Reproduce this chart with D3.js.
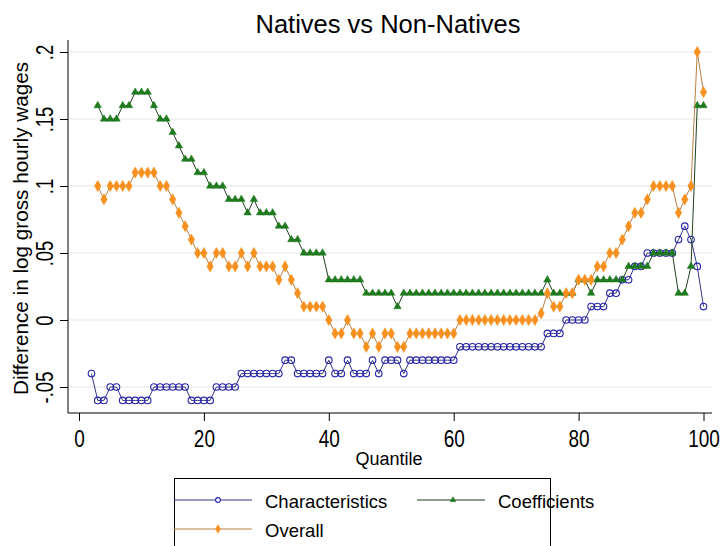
<!DOCTYPE html>
<html>
<head>
<meta charset="utf-8">
<script src="https://cdn.jsdelivr.net/npm/d3@7"></script>
<style>
  html, body { margin: 0; padding: 0; background: #ffffff; }
  svg { display: block; }
  text { font-family: "Liberation Sans", Arial, sans-serif; fill: #000; }
</style>
</head>
<body>
<svg id="chart" width="722" height="546"></svg>
<script>
// ---- data ----
const charQuantiles = d3.range(2, 101);   // 2..100
const otherQuantiles = d3.range(3, 101);  // 3..100

const characteristics = [
  -0.04,-0.06,-0.06,-0.05,-0.05,-0.06,-0.06,-0.06,-0.06,-0.06,
  -0.05,-0.05,-0.05,-0.05,-0.05,-0.05,-0.06,-0.06,-0.06,-0.06,
  -0.05,-0.05,-0.05,-0.05,-0.04,-0.04,-0.04,-0.04,-0.04,-0.04,
  -0.04,-0.03,-0.03,-0.04,-0.04,-0.04,-0.04,-0.04,-0.03,-0.04,
  -0.04,-0.03,-0.04,-0.04,-0.04,-0.03,-0.04,-0.03,-0.03,-0.03,
  -0.04,-0.03,-0.03,-0.03,-0.03,-0.03,-0.03,-0.03,-0.03,-0.02,
  -0.02,-0.02,-0.02,-0.02,-0.02,-0.02,-0.02,-0.02,-0.02,-0.02,
  -0.02,-0.02,-0.02,-0.01,-0.01,-0.01,0,0,0,0,
  0.01,0.01,0.01,0.02,0.02,0.03,0.03,0.04,0.04,0.05,
  0.05,0.05,0.05,0.05,0.06,0.07,0.06,0.04,0.01
];

const coefficients = [
  0.16,0.15,0.15,0.15,0.16,0.16,0.17,0.17,0.17,0.16,
  0.15,0.15,0.14,0.13,0.12,0.12,0.11,0.11,0.10,0.10,
  0.10,0.09,0.09,0.09,0.08,0.09,0.08,0.08,0.08,0.07,
  0.07,0.06,0.06,0.05,0.05,0.05,0.05,0.03,0.03,0.03,
  0.03,0.03,0.03,0.02,0.02,0.02,0.02,0.02,0.01,0.02,
  0.02,0.02,0.02,0.02,0.02,0.02,0.02,0.02,0.02,0.02,
  0.02,0.02,0.02,0.02,0.02,0.02,0.02,0.02,0.02,0.02,
  0.02,0.02,0.03,0.02,0.02,0.02,0.02,0.03,0.03,0.02,
  0.03,0.03,0.03,0.03,0.03,0.04,0.04,0.04,0.04,0.05,
  0.05,0.05,0.05,0.02,0.02,0.04,0.16,0.16
];

const overall = [
  0.10,0.09,0.10,0.10,0.10,0.10,0.11,0.11,0.11,0.11,
  0.10,0.10,0.09,0.08,0.07,0.06,0.05,0.05,0.04,0.05,
  0.05,0.04,0.04,0.05,0.04,0.05,0.04,0.04,0.04,0.03,
  0.04,0.03,0.02,0.01,0.01,0.01,0.01,0.00,-0.01,-0.01,
  0.00,-0.01,-0.01,-0.02,-0.01,-0.02,-0.01,-0.01,-0.02,-0.02,
  -0.01,-0.01,-0.01,-0.01,-0.01,-0.01,-0.01,-0.01,0,0,
  0,0,0,0,0,0,0,0,0,0,
  0,0.005,0.02,0.01,0.01,0.02,0.02,0.03,0.03,0.03,
  0.04,0.04,0.05,0.05,0.06,0.07,0.08,0.08,0.09,0.10,
  0.10,0.10,0.10,0.08,0.09,0.10,0.20,0.17
];

const xTicks = [0, 20, 40, 60, 80, 100];
const yTicks = [-0.05, 0, 0.05, 0.1, 0.15, 0.2];
const yTickLabels = ["-.05", "0", ".05", ".1", ".15", ".2"];

const titleText = "Natives vs Non-Natives";
const xTitle = "Quantile";
const yTitle = "Difference in log gross hourly wages";
const seriesNames = ["Characteristics", "Coefficients", "Overall"];

// ---- layout ----
const svg = d3.select("#chart");
const plotLeft = 68, plotRight = 712, plotTop = 40, plotBottom = 413;

const x = d3.scaleLinear().domain([0, 100]).range([79, 703.5]);
const y = d3.scaleLinear().domain([0, 0.2]).range([320, 52]);

// gridlines
svg.append("g").selectAll("line").data(yTicks).join("line")
  .attr("x1", plotLeft).attr("x2", plotRight)
  .attr("y1", d => y(d)).attr("y2", d => y(d))
  .attr("stroke", "#e6e6e6").attr("stroke-width", 1.2);

// y axis
const yAxis = d3.axisLeft(y).tickValues(yTicks)
  .tickFormat((d, i) => yTickLabels[i]).tickSize(8).tickSizeOuter(0);
const gy = svg.append("g").attr("transform", `translate(${plotLeft},0)`).call(yAxis);
gy.select(".domain").remove();
gy.selectAll(".tick line").attr("stroke", "#000");
gy.selectAll(".tick text").remove();
gy.selectAll(".tick").append("text")
  .attr("transform", "translate(-15,0) rotate(-90) scale(1,1.3)")
  .attr("text-anchor", "middle")
  .style("font-size", "18.5px")
  .text(d => yTickLabels[yTicks.indexOf(d)]);
svg.append("line").attr("x1", plotLeft).attr("x2", plotLeft)
  .attr("y1", plotTop).attr("y2", plotBottom).attr("stroke", "#000").attr("stroke-width", 1);

// x axis
const xAxis = d3.axisBottom(x).tickValues(xTicks).tickFormat(d3.format("d"))
  .tickSize(8).tickSizeOuter(0);
const gx = svg.append("g").attr("transform", `translate(0,${plotBottom})`).call(xAxis);
gx.select(".domain").remove();
gx.selectAll(".tick line").attr("stroke", "#000");
gx.selectAll(".tick text").remove();
gx.selectAll(".tick").append("text")
  .attr("transform", "translate(0,34) scale(1,1.3)")
  .attr("text-anchor", "middle")
  .style("font-size", "19px")
  .text(d => d3.format("d")(d));
svg.append("line").attr("x1", plotLeft).attr("x2", plotRight)
  .attr("y1", plotBottom).attr("y2", plotBottom).attr("stroke", "#000").attr("stroke-width", 1);

// titles
svg.append("text").attr("x", 388).attr("y", 33).attr("text-anchor", "middle")
  .style("font-size", "25.5px").text(titleText);
svg.append("text").attr("x", 389).attr("y", 465).attr("text-anchor", "middle")
  .style("font-size", "18px").text(xTitle);
svg.append("text").attr("transform", `translate(28,${(plotTop + plotBottom) / 2 + 2}) rotate(-90)`)
  .attr("text-anchor", "middle").style("font-size", "20.7px").text(yTitle);

// series
const charData = charQuantiles.map((q, i) => ({ q, v: characteristics[i] }));
const coefData = otherQuantiles.map((q, i) => ({ q, v: coefficients[i] }));
const overData = otherQuantiles.map((q, i) => ({ q, v: overall[i] }));

const line = d3.line().x(d => x(d.q)).y(d => y(d.v));

const styles = {
  char: { line: "#343488", marker: "#2323a8" },
  coef: { line: "#1f3f1f", marker: "#1d7a1d" },
  over: { line: "#b98040", marker: "#f7901e" }
};

const circleSym = d3.symbol().type(d3.symbolCircle).size(34);
const triSym = d3.symbol().type(d3.symbolTriangle).size(24);
const diamondSym = d3.symbol().type(d3.symbolDiamond).size(36);

function drawSeries(data, st, sym, hollow) {
  const g = svg.append("g");
  g.append("path").datum(data).attr("d", line)
    .attr("fill", "none").attr("stroke", st.line).attr("stroke-width", 1);
  g.selectAll("path.m").data(data).join("path").attr("class", "m")
    .attr("transform", d => `translate(${x(d.q)},${y(d.v)})`)
    .attr("d", sym)
    .attr("fill", hollow ? "none" : st.marker)
    .attr("stroke", st.marker)
    .attr("stroke-width", hollow ? 1.1 : 0.5);
}
drawSeries(charData, styles.char, circleSym, true);
drawSeries(coefData, styles.coef, triSym, false);
drawSeries(overData, styles.over, diamondSym, false);

// legend
const lg = svg.append("g");
lg.append("rect").attr("x", 174.5).attr("y", 478.5).attr("width", 376).attr("height", 80)
  .attr("fill", "#fff").attr("stroke", "#000").attr("stroke-width", 1);
const legendItems = [
  { name: seriesNames[0], st: styles.char, sym: d3.symbol().type(d3.symbolCircle).size(18), hollow: true, lx: 174, len: 78, mk: 44, tx: 265, ly: 500 },
  { name: seriesNames[1], st: styles.coef, sym: d3.symbol().type(d3.symbolTriangle).size(14), hollow: false, lx: 417, len: 68, mk: 36, tx: 498, ly: 500 },
  { name: seriesNames[2], st: styles.over, sym: d3.symbol().type(d3.symbolDiamond).size(22), hollow: false, lx: 174, len: 78, mk: 44, tx: 265, ly: 529 }
];
legendItems.forEach(it => {
  lg.append("line").attr("x1", it.lx).attr("x2", it.lx + it.len)
    .attr("y1", it.ly).attr("y2", it.ly).attr("stroke", it.st.line).attr("stroke-width", 1);
  lg.append("path").attr("transform", `translate(${it.lx + it.mk},${it.ly})`).attr("d", it.sym)
    .attr("fill", it.hollow ? "#fff" : it.st.marker).attr("stroke", it.st.marker)
    .attr("stroke-width", it.hollow ? 1.1 : 0.5);
  lg.append("text").attr("x", it.tx).attr("y", it.ly + 8)
    .style("font-size", "18.5px").text(it.name);
});
</script>
</body>
</html>
